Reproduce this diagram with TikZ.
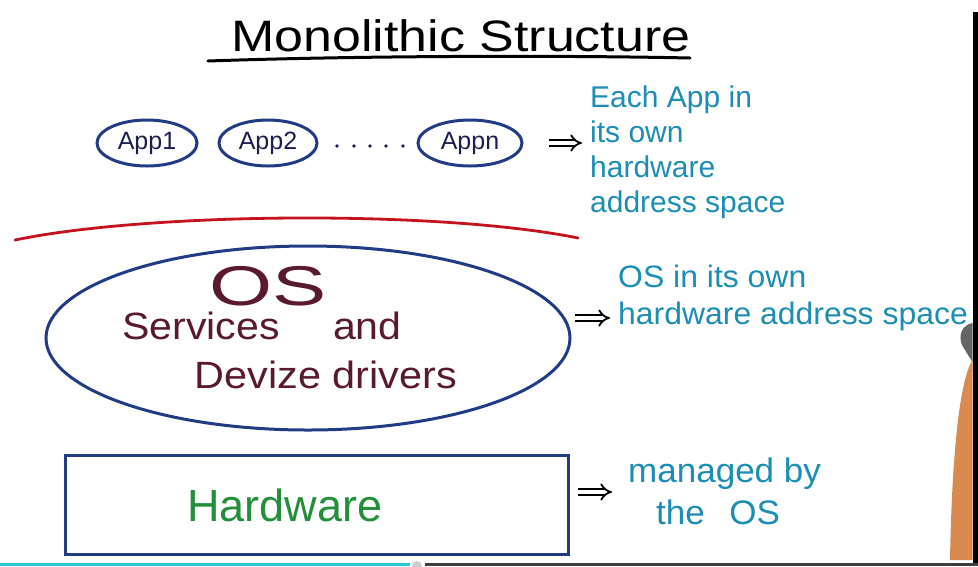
\documentclass[tikz,border=0pt]{standalone}
\usepackage{fontspec}
\setmainfont{Liberation Sans}
\usetikzlibrary{shapes.geometric,arrows.meta}
\definecolor{tealink}{HTML}{1C8DB4}
\definecolor{navyink}{HTML}{223B85}
\definecolor{appink}{HTML}{1A1F4F}
\definecolor{redink}{HTML}{C4121E}
\definecolor{maroonink}{HTML}{5A1A2E}
\definecolor{greenink}{HTML}{22903A}
\definecolor{barcyan}{HTML}{2CC3DB}
\definecolor{bargray}{HTML}{3E3E3E}
\definecolor{skin}{HTML}{D98A4E}
\tikzset{
  appnode/.style={ellipse, draw=navyink, line width=3pt, minimum width=100pt, minimum height=46pt, inner sep=0pt, text=appink, font=\fontsize{25}{28}\selectfont},
  note/.style={text=tealink, anchor=west, align=left, inner sep=0pt, font=\fontsize{30}{35}\selectfont},
  implies/.style={double, double distance=4pt, line width=1.8pt, -{Implies}, black},
}
\begin{document}
\begin{tikzpicture}[x=1pt, y=-1pt]
\useasboundingbox (0,0) rectangle (978,566);
\fill[white] (0,0) rectangle (978,566);
% title
\node[font=\fontsize{44}{50}\selectfont, inner sep=0pt, xscale=1.18] (title) at (461,36) {Monolithic Structure};
\draw[line width=3pt, line cap=round] (208,61) .. controls (350,56) and (550,55) .. (690,58);
% apps
\node[appnode] (app1) at (147,143) {App1};
\node[appnode, minimum width=98pt] (app2) at (268,143) {App2};
\node[appnode, minimum width=104pt] (appn) at (470,143) {Appn};
\foreach \x in {337,354,370,386,403} \fill[appink] (\x,146) circle (1.9pt);
\coordinate (arr1s) at (549,143);
\coordinate (arr1e) at (582,143);
\draw[implies] (arr1s) -- (arr1e);
\node[note] (note1) at (590,152) {Each App in\\its own\\hardware\\address space};
% red divider
\draw[redink, line width=2.8pt, line cap=round] (15,240) .. controls (150,212) and (440,210) .. (578,238);
% OS
\node[ellipse, draw=navyink, line width=3pt, minimum width=524pt, minimum height=184pt, inner sep=0pt] (os) at (308,338) {};
\node[text=maroonink, font=\fontsize{56}{60}\selectfont, inner sep=0pt, xscale=1.45] (ostitle) at (268,286) {OS};
\node[text=maroonink, font=\fontsize{38}{42}\selectfont, inner sep=0pt, xscale=1.08] (osl1) at (262,326) {Services\hspace{1.3em}and};
\node[text=maroonink, font=\fontsize{38}{42}\selectfont, inner sep=0pt, xscale=1.09] (osl2) at (326,375) {Devize drivers};
\coordinate (arr2s) at (575,318);
\coordinate (arr2e) at (610,318);
\draw[implies] (arr2s) -- (arr2e);
\node[note, xscale=1.03, font=\fontsize{31}{37}\selectfont] (note2) at (618,298) {OS in its own\\hardware address space};
% hardware
\node[draw=navyink, line width=3pt, minimum width=503pt, minimum height=99pt, inner sep=0pt] (hw) at (316.5,504.5) {};
\node[text=greenink, font=\fontsize{45}{50}\selectfont, inner sep=0pt] (hwtext) at (285,505) {Hardware};
\coordinate (arr3s) at (578,492);
\coordinate (arr3e) at (612,492);
\draw[implies] (arr3s) -- (arr3e);
\node[note, font=\fontsize{34}{42}\selectfont, xscale=1.03] (note3) at (628,491) {managed by\\\hspace{0.8em}the\hspace{0.7em}OS};
% frame details
\fill[black] (972.5,12) rectangle (978,566);
\fill[skin] (972.5,360) .. controls (960,380) and (952,450) .. (950,560) -- (972.5,560) -- cycle;
\fill[bargray!80] (972.5,323) .. controls (962,325) and (958,335) .. (962,345) .. controls (966,352) and (970,358) .. (972.5,362) -- cycle;
\fill[barcyan] (0,562.5) rectangle (410,566);
\fill[bargray] (425,562.5) rectangle (978,566);
\fill[gray!40] (417,566) circle (5pt);
\end{tikzpicture}
\end{document}
